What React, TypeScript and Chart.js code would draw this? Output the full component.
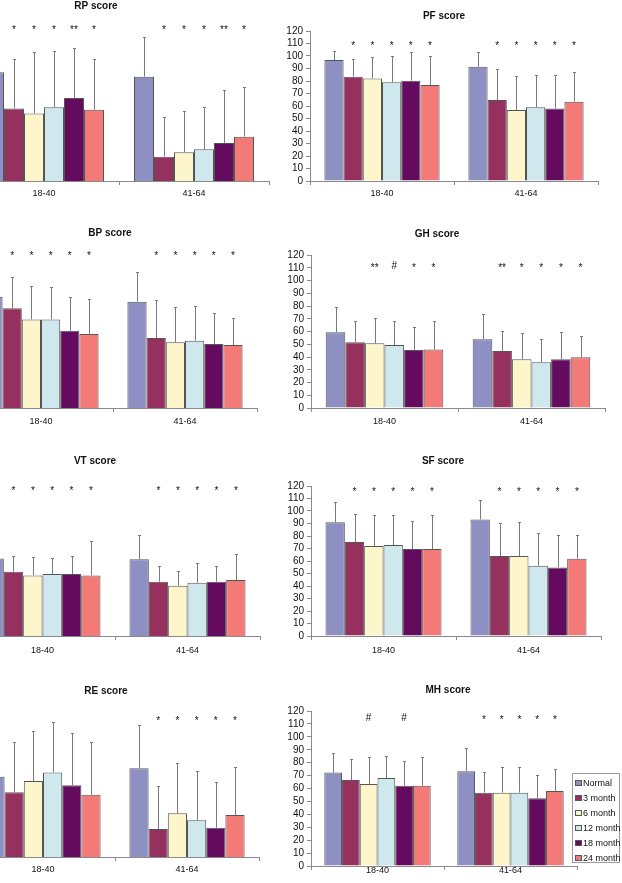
import React, { useEffect, useRef } from 'react';
import { Chart, registerables } from 'chart.js';

Chart.register(...registerables);

// ---------- data ----------
const AGE_GROUPS = ['18-40', '41-64'];
const SERIES = ['Normal', '3 month', '6 month', '12 month', '18 month', '24 month'];
const COLORS = ['#8e8fc3', '#96305f', '#fdf6cb', '#cfe8ee', '#640a5f', '#f47a77'];
const Y_MIN = 0;
const Y_MAX = 120;
const Y_STEP = 10;

// RP score
const RP_MEAN_18_40 = [87, 58, 54, 59, 66.5, 57];
const RP_MEAN_41_64 = [83.5, 19.5, 23, 25.5, 30.5, 35.5];
const RP_SD_18_40 = [14, 40, 49, 45, 40, 41];
const RP_SD_41_64 = [31.5, 31.5, 33, 34, 42, 40];
const RP_MARKS_18_40 = ['', '*', '*', '*', '**', '*'];
const RP_MARKS_41_64 = ['', '*', '*', '*', '**', '*'];

// PF score
const PF_MEAN_18_40 = [96.8, 83.5, 82, 79, 80.3, 76.8];
const PF_MEAN_41_64 = [91.5, 64.8, 56.8, 59, 58, 63.5];
const PF_SD_18_40 = [7.2, 14.5, 17.4, 21.3, 22.7, 23.5];
const PF_SD_41_64 = [12, 24.5, 27.2, 25.8, 26.8, 24];
const PF_MARKS_18_40 = ['', '*', '*', '*', '*', '*'];
const PF_MARKS_41_64 = ['', '*', '*', '*', '*', '*'];

// BP score
const BP_MEAN_18_40 = [87.3, 78.2, 69.5, 69.5, 60.6, 58];
const BP_MEAN_41_64 = [83.4, 54.9, 51.5, 52.8, 50.2, 49.4];
const BP_SD_18_40 = [15, 24.3, 26.2, 25.2, 26.2, 27.7];
const BP_SD_41_64 = [23, 29.8, 27.5, 27.2, 24.6, 20.9];
const BP_MARKS_18_40 = ['', '*', '*', '*', '*', '*'];
const BP_MARKS_41_64 = ['', '*', '*', '*', '*', '*'];

// GH score
const GH_MEAN_18_40 = [59.4, 51.5, 50.7, 49.4, 45.5, 45.8];
const GH_MEAN_41_64 = [53.9, 44.7, 38.2, 35.8, 38.2, 39.8];
const GH_SD_18_40 = [19.6, 17, 19.6, 19.1, 18.3, 22.7];
const GH_SD_41_64 = [19.6, 15.7, 20.4, 18.3, 21.2, 16.7];
const GH_MARKS_18_40 = ['', '', '**', '#', '*', '*'];
const GH_MARKS_41_64 = ['', '**', '*', '*', '*', '*'];

// VT score
const VT_MEAN_18_40 = [62, 51.5, 48.5, 49.6, 49.6, 48.5];
const VT_MEAN_41_64 = [61.5, 43.4, 40.3, 42.7, 43.4, 44.8];
const VT_SD_18_40 = [12, 12.5, 14.5, 12.5, 14.4, 27.8];
const VT_SD_41_64 = [19.3, 12.9, 12, 15.4, 12.9, 20.5];
const VT_MARKS_18_40 = ['', '*', '*', '*', '*', '*'];
const VT_MARKS_41_64 = ['', '*', '*', '*', '*', '*'];

// SF score
const SF_MEAN_18_40 = [91, 75.2, 72, 72.8, 69.6, 69.6];
const SF_MEAN_41_64 = [93.3, 64, 64, 56.3, 54.9, 61.9];
const SF_SD_18_40 = [16, 22.4, 24.5, 23.7, 22.7, 26.9];
const SF_SD_41_64 = [15.5, 26.1, 27, 25.8, 25.6, 18.6];
const SF_MARKS_18_40 = ['', '*', '*', '*', '*', '*'];
const SF_MARKS_41_64 = ['', '*', '*', '*', '*', '*'];

// RE score
const RE_MEAN_18_40 = [62.2, 50.1, 58.9, 65.4, 55.6, 48.1];
const RE_MEAN_41_64 = [68.8, 21.7, 33.9, 28.4, 22.7, 32.6];
const RE_SD_18_40 = [20, 39.3, 38.3, 39.5, 40.3, 41.3];
const RE_SD_41_64 = [33.5, 33.6, 38.7, 38.3, 35.7, 37.4];
const RE_MARKS_18_40 = ['', '', '', '', '', ''];
const RE_MARKS_41_64 = ['', '*', '*', '*', '*', '*'];

// MH score
const MH_MEAN_18_40 = [72.3, 66.6, 63.5, 68.1, 62.2, 62.2];
const MH_MEAN_41_64 = [73.3, 56.8, 56.8, 56.8, 52.4, 58.1];
const MH_SD_18_40 = [15.4, 16, 20.6, 17.1, 19.1, 21.9];
const MH_SD_41_64 = [17.8, 16.2, 20.1, 20.1, 18.1, 17];
const MH_MARKS_18_40 = ['', '', '#', '', '#', ''];
const MH_MARKS_41_64 = ['', '*', '*', '*', '*', '*'];

// ---------- layout (page pixels) ----------
type Geom = {
  plotL: number; plotR: number; zeroY: number; topY: number;
  titleX: number; titleY: number; marksY: number; labelY: number; axis: boolean;
};

type PanelSpec = {
  title: string;
  mean: number[][];
  sd: number[][];
  marks: string[][];
  g: Geom;
};

const PANELS: PanelSpec[] = [
  { title: 'RP score', mean: [RP_MEAN_18_40, RP_MEAN_41_64], sd: [RP_SD_18_40, RP_SD_41_64], marks: [RP_MARKS_18_40, RP_MARKS_41_64],
    g: { plotL: -31, plotR: 269, zeroY: 181, topY: 31, titleX: 96, titleY: 6, marksY: 27, labelY: 194, axis: false } },
  { title: 'PF score', mean: [PF_MEAN_18_40, PF_MEAN_41_64], sd: [PF_SD_18_40, PF_SD_41_64], marks: [PF_MARKS_18_40, PF_MARKS_41_64],
    g: { plotL: 310, plotR: 598, zeroY: 181, topY: 31, titleX: 444, titleY: 16, marksY: 43, labelY: 194, axis: true } },
  { title: 'BP score', mean: [BP_MEAN_18_40, BP_MEAN_41_64], sd: [BP_SD_18_40, BP_SD_41_64], marks: [BP_MARKS_18_40, BP_MARKS_41_64],
    g: { plotL: -31, plotR: 257, zeroY: 408, topY: 255, titleX: 110, titleY: 233, marksY: 253, labelY: 422, axis: false } },
  { title: 'GH score', mean: [GH_MEAN_18_40, GH_MEAN_41_64], sd: [GH_SD_18_40, GH_SD_41_64], marks: [GH_MARKS_18_40, GH_MARKS_41_64],
    g: { plotL: 311, plotR: 605, zeroY: 408, topY: 255, titleX: 437, titleY: 234, marksY: 265, labelY: 422, axis: true } },
  { title: 'VT score', mean: [VT_MEAN_18_40, VT_MEAN_41_64], sd: [VT_SD_18_40, VT_SD_41_64], marks: [VT_MARKS_18_40, VT_MARKS_41_64],
    g: { plotL: -30, plotR: 260, zeroY: 636, topY: 486, titleX: 95, titleY: 461, marksY: 488, labelY: 651, axis: false } },
  { title: 'SF score', mean: [SF_MEAN_18_40, SF_MEAN_41_64], sd: [SF_SD_18_40, SF_SD_41_64], marks: [SF_MARKS_18_40, SF_MARKS_41_64],
    g: { plotL: 311, plotR: 601, zeroY: 636, topY: 486, titleX: 443, titleY: 461, marksY: 489, labelY: 651, axis: true } },
  { title: 'RE score', mean: [RE_MEAN_18_40, RE_MEAN_41_64], sd: [RE_SD_18_40, RE_SD_41_64], marks: [RE_MARKS_18_40, RE_MARKS_41_64],
    g: { plotL: -29, plotR: 259, zeroY: 857, topY: 702, titleX: 106, titleY: 691, marksY: 718, labelY: 870, axis: false } },
  { title: 'MH score', mean: [MH_MEAN_18_40, MH_MEAN_41_64], sd: [MH_SD_18_40, MH_SD_41_64], marks: [MH_MARKS_18_40, MH_MARKS_41_64],
    g: { plotL: 311, plotR: 577, zeroY: 866, topY: 711, titleX: 448, titleY: 690, marksY: 717, labelY: 871, axis: true } },
];

const FONT = '"Liberation Sans", Arial, Helvetica, sans-serif';
const AXIS_COLOR = '#8a8a8a';
const Y_AXIS_W = 40;
const X_AXIS_H = 25;
const PAD_L = 4;
const PAD_R = 8;
const TICK_LEN = 4;

const decorPlugin = {
  id: 'decor',
  afterDatasetsDraw(chart: any, _args: any, opts: any) {
    const ctx: CanvasRenderingContext2D = chart.ctx;
    const ys = chart.scales.y;
    ctx.save();
    // error bars
    ctx.strokeStyle = '#7a7a7a';
    ctx.lineWidth = 1;
    chart.data.datasets.forEach((ds: any, i: number) => {
      const meta = chart.getDatasetMeta(i);
      meta.data.forEach((el: any, j: number) => {
        const m = ds.data[j];
        const sd = opts.sd[j][i];
        const x = Math.round(el.x) + 0.5;
        const yTop = Math.round(ys.getPixelForValue(m + sd)) + 0.5;
        ctx.beginPath();
        ctx.moveTo(x, el.y);
        ctx.lineTo(x, yTop);
        ctx.moveTo(x - 1.5, yTop);
        ctx.lineTo(x + 1.5, yTop);
        ctx.stroke();
      });
    });
    // significance marks
    ctx.fillStyle = '#111';
    ctx.textAlign = 'center';
    ctx.textBaseline = 'alphabetic';
    ctx.font = `10px ${FONT}`;
    chart.data.datasets.forEach((_ds: any, i: number) => {
      const meta = chart.getDatasetMeta(i);
      meta.data.forEach((el: any, j: number) => {
        const s = opts.marks[j][i];
        if (!s) return;
        const off = s.includes('#') ? 3.5 : 5.5;
        ctx.fillText(s, el.x, opts.marksY - opts.top + off);
      });
    });
    // title
    ctx.font = `bold 10px ${FONT}`;
    ctx.textBaseline = 'middle';
    ctx.fillText(opts.title, opts.titleX - opts.left, opts.titleY - opts.top);
    ctx.restore();
  },
};

function Panel({ p }: { p: PanelSpec }) {
  const ref = useRef<HTMLCanvasElement>(null);
  const g = p.g;
  const yW = g.axis ? Y_AXIS_W : 0;
  const left = g.plotL - yW - PAD_L;
  const top = Math.min(g.titleY, g.marksY) - 10;
  const width = g.plotR + PAD_R - left;
  const height = g.zeroY + X_AXIS_H - top;

  useEffect(() => {
    const datasets = SERIES.map((name, i) => ({
      label: name,
      data: AGE_GROUPS.map((_a, j) => p.mean[j][i]),
      backgroundColor: COLORS[i],
      borderColor: '#555',
      borderWidth: 1,
      categoryPercentage: 0.8,
      barPercentage: 1.0,
    }));
    const chart = new Chart(ref.current as HTMLCanvasElement, {
      type: 'bar',
      data: { labels: AGE_GROUPS, datasets },
      options: {
        responsive: false,
        animation: false,
        devicePixelRatio: 1,
        layout: { padding: { left: PAD_L, right: PAD_R, top: g.topY - top, bottom: 0 } },
        plugins: {
          legend: { display: false },
          tooltip: { enabled: false },
          decor: {
            sd: p.sd, marks: p.marks, marksY: g.marksY, title: p.title,
            titleX: g.titleX, titleY: g.titleY, left, top,
          },
        } as any,
        scales: {
          x: {
            offset: true,
            grid: { display: true, drawOnChartArea: false, drawTicks: true, tickLength: TICK_LEN, offset: true, color: AXIS_COLOR },
            border: { display: true, color: AXIS_COLOR },
            ticks: {
              color: '#111',
              font: { family: FONT, size: 9 },
              padding: g.labelY - g.zeroY - TICK_LEN - 5.4,
              maxRotation: 0,
            },
            afterFit: (s: any) => { s.height = X_AXIS_H; },
          },
          y: {
            display: g.axis,
            min: Y_MIN,
            max: Y_MAX,
            ticks: {
              stepSize: Y_STEP, autoSkip: false, maxTicksLimit: 50,
              color: '#111', font: { family: FONT, size: 10 }, padding: 3,
            },
            grid: { display: true, drawOnChartArea: false, drawTicks: true, tickLength: TICK_LEN, color: AXIS_COLOR },
            border: { display: true, color: AXIS_COLOR },
            afterFit: (s: any) => { s.width = g.axis ? Y_AXIS_W : 0; },
          },
        },
      },
      plugins: [decorPlugin as any],
    });
    return () => chart.destroy();
  }, []);

  return (
    <canvas
      ref={ref}
      width={width}
      height={height}
      style={{ position: 'absolute', left, top, width, height }}
    />
  );
}

function Legend() {
  return (
    <div
      style={{
        position: 'absolute', left: 572, top: 773, width: 48, height: 90,
        border: '1px solid #9a9a9a', background: '#fff', boxSizing: 'border-box',
        fontFamily: FONT, fontSize: 9, color: '#111',
      }}
    >
      {SERIES.map((s, i) => (
        <div
          key={s}
          style={{
            position: 'absolute', left: 2, top: 3 + i * 15, height: 12,
            display: 'flex', alignItems: 'center', whiteSpace: 'nowrap', lineHeight: '12px',
          }}
        >
          <span
            style={{
              display: 'inline-block', width: 7, height: 6, background: COLORS[i],
              border: '1px solid #555', boxSizing: 'border-box', marginRight: 1,
            }}
          />
          {s}
        </div>
      ))}
    </div>
  );
}

export default function App() {
  return (
    <div
      style={{
        position: 'absolute', left: 0, top: 0, width: 622, height: 883,
        overflow: 'hidden', background: '#fff',
      }}
    >
      {PANELS.map((p) => (
        <Panel key={p.title} p={p} />
      ))}
      <Legend />
    </div>
  );
}
